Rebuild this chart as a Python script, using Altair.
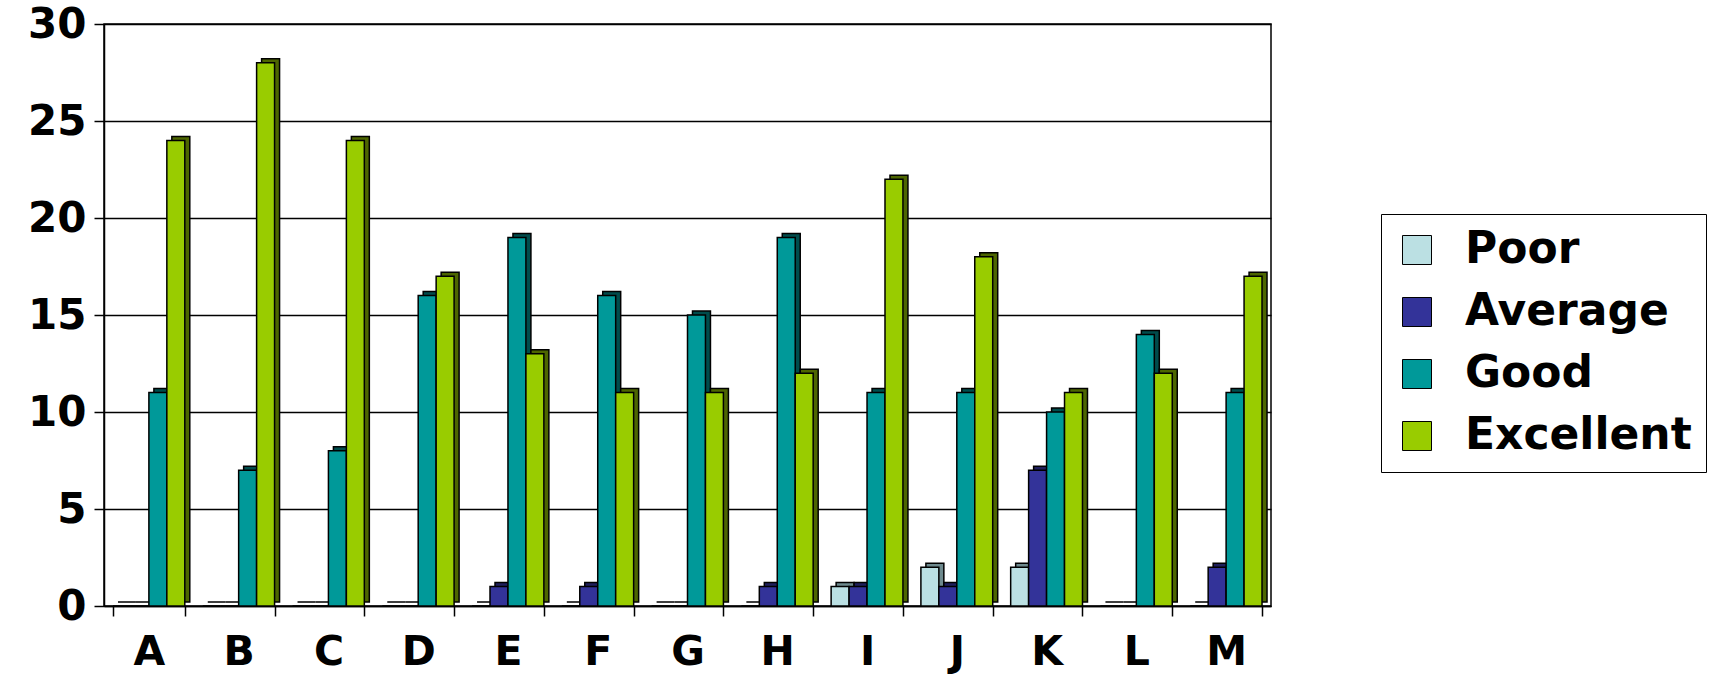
import altair as alt
import pandas as pd

categories = list("ABCDEFGHIJKLM")
series = ["Poor", "Average", "Good", "Excellent"]
poor = [0, 0, 0, 0, 0, 0, 0, 0, 1, 2, 2, 0, 0]
average = [0, 0, 0, 0, 1, 1, 0, 1, 1, 1, 7, 0, 2]
good = [11, 7, 8, 16, 19, 16, 15, 19, 11, 11, 10, 14, 11]
excellent = [24, 28, 24, 17, 13, 11, 11, 12, 22, 18, 11, 12, 17]
y_ticks = [0, 5, 10, 15, 20, 25, 30]

colors = ["#BBE0E3", "#333399", "#009999", "#99CC00"]
side_colors = ["#6E8A8E", "#1F1F5C", "#004C4C", "#4D6600"]

rows = []
for s, vals in zip(series, [poor, average, good, excellent]):
    for c, v in zip(categories, vals):
        rows.append({"category": c, "series": s, "side": s, "value": v})
df = pd.DataFrame(rows)

FONT = "DejaVu Sans"
W, H = 1167, 582
PAD_INNER, PAD_OUTER = 0.2, 0.1
step = W / (len(categories) - PAD_INNER + 2 * PAD_OUTER)
bandwidth = step * (1 - PAD_INNER)
DEPTH_X, DEPTH_Y = 5, 4

x_main = alt.X(
    "category:N", sort=categories, title=None,
    scale=alt.Scale(paddingInner=PAD_INNER, paddingOuter=PAD_OUTER),
    axis=alt.Axis(labelFont=FONT, labelFontSize=41, labelFontWeight="bold",
                  labelColor="black", labelAngle=0, labelAlign="center",
                  tickBand="extent", tickSize=10, tickWidth=1.5,
                  tickColor="black", domainColor="black", domainWidth=1.5,
                  labelPadding=36, grid=False),
)
y_main = alt.Y(
    "value:Q", title=None,
    scale=alt.Scale(domain=[0, 30], nice=False),
    axis=alt.Axis(values=y_ticks, labelFont=FONT, labelFontSize=42, labelFontWeight="bold",
                  labelColor="black", tickSize=10, tickWidth=1.5, tickColor="black",
                  domainColor="black", domainWidth=1.5,
                  labelPadding=8, grid=True, gridColor="black", gridWidth=1.6),
)

legend = alt.Legend(orient="none", legendX=1277, legendY=190, title=None,
                    labelFont=FONT, labelFontSize=44, labelFontWeight="bold",
                    labelColor="black", labelLimit=400,
                    symbolType="square", symbolSize=841, symbolStrokeColor="black",
                    symbolStrokeWidth=1, symbolOpacity=1,
                    strokeColor="black", fillColor="white",
                    padding=14, rowPadding=18, labelOffset=26)

base = alt.Chart(df)

shadow = base.mark_bar(stroke="black", strokeWidth=1.5, yOffset=-DEPTH_Y).encode(
    x=alt.X("category:N", sort=categories),
    xOffset=alt.XOffset("side:N", sort=series,
                        scale=alt.Scale(paddingInner=0, paddingOuter=0,
                                        range=[DEPTH_X, bandwidth + DEPTH_X])),
    y=alt.Y("value:Q"),
    fill=alt.Fill("side:N", sort=series,
                  scale=alt.Scale(range=side_colors), legend=None),
)

main = base.mark_bar(stroke="black", strokeWidth=1.5, opacity=1).encode(
    x=x_main,
    xOffset=alt.XOffset("series:N", sort=series, scale=alt.Scale(paddingInner=0, paddingOuter=0)),
    y=y_main,
    color=alt.Color("series:N", sort=series, scale=alt.Scale(domain=series, range=colors),
                    legend=legend),
)

chart = alt.layer(shadow, main).resolve_scale(xOffset="independent").properties(
    width=W, height=H,
    autosize=alt.AutoSizeParams(type="none"),
    padding={"left": 104, "top": 24, "right": 1729 - 104 - W, "bottom": 675 - 24 - H},
    background="white",
).configure_view(stroke="black", strokeWidth=1.5)

chart.save("out.html", embed_options={"renderer": "svg", "actions": False})
